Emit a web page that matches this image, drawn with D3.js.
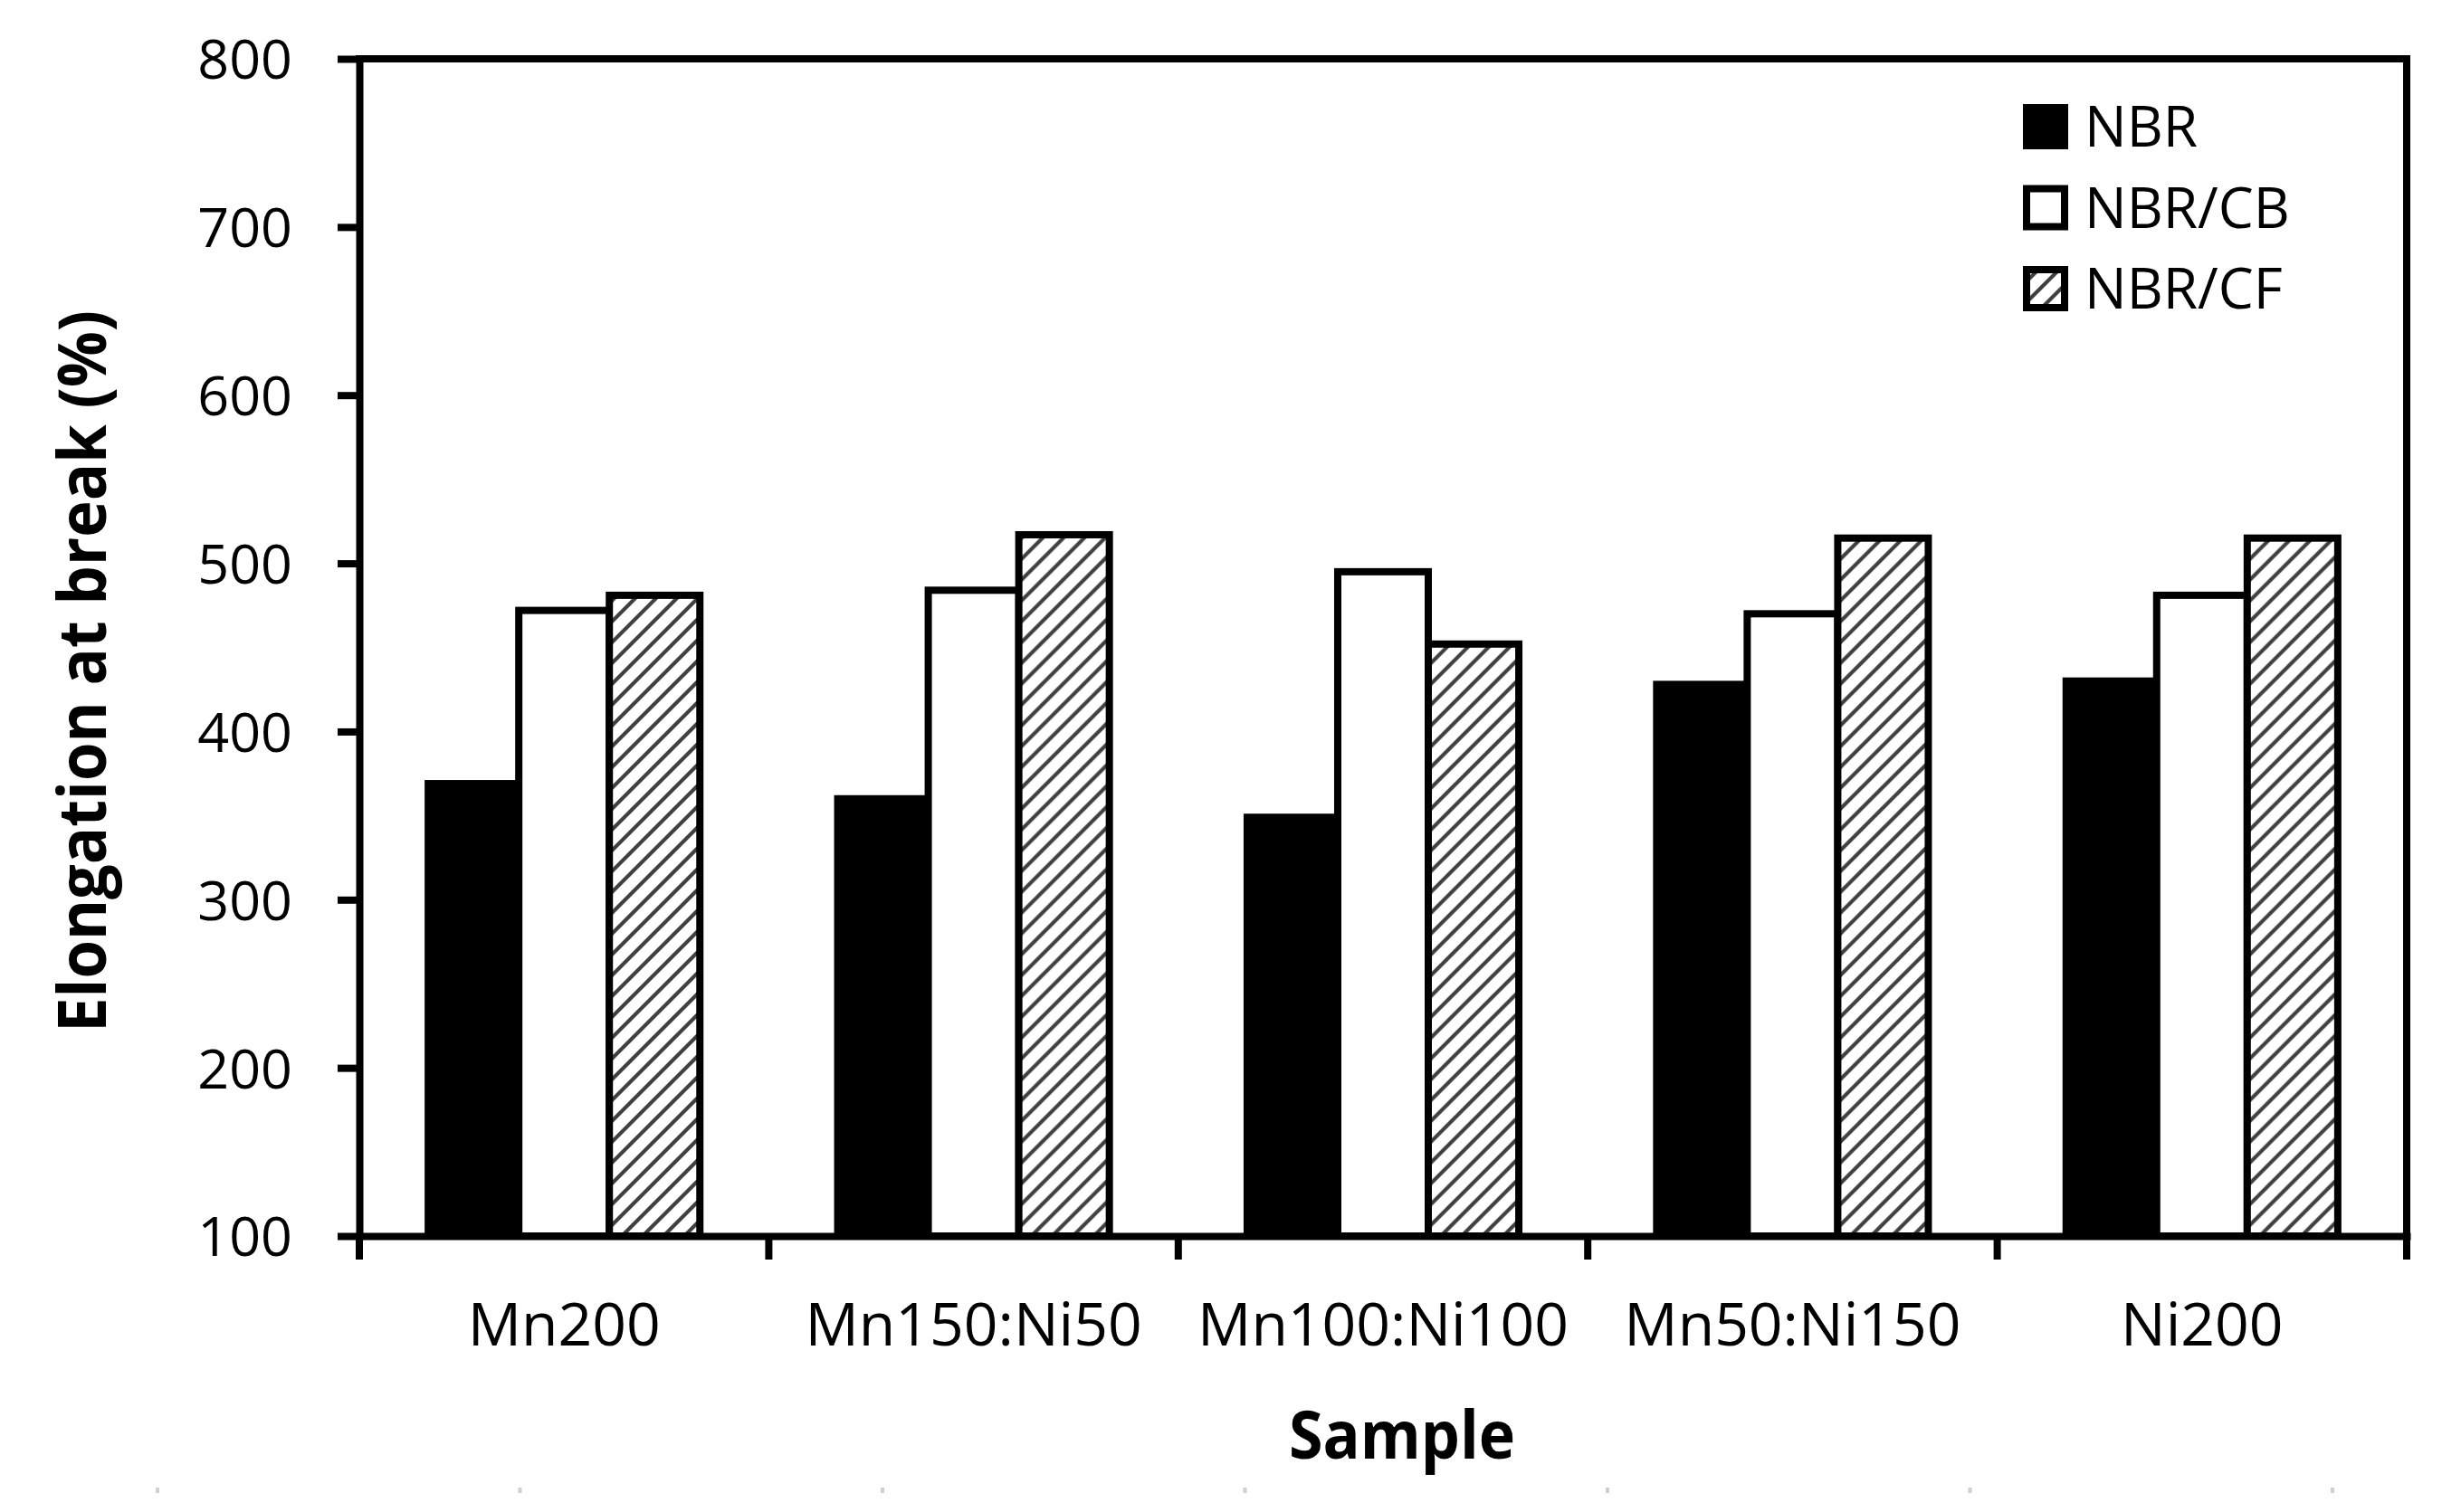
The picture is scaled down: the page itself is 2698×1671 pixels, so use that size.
<!DOCTYPE html>
<html>
<head>
<meta charset="utf-8">
<script src="https://cdn.jsdelivr.net/npm/d3@7"></script>
<style>
  html, body { margin: 0; padding: 0; background: #fff; }
  svg { display: block; }
</style>
</head>
<body>
<svg id="chart" width="2698" height="1671"></svg>
<script>
// ---- data ----
const categories = ["Mn200", "Mn150:Ni50", "Mn100:Ni100", "Mn50:Ni150", "Ni200"];
const seriesNames = ["NBR", "NBR/CB", "NBR/CF"];
const nbrValues   = [369, 360, 349, 428, 430];
const nbrCBValues = [472, 484, 495, 470, 481];
const nbrCFValues = [481, 517, 452, 515, 515];
const yTickValues = [100, 200, 300, 400, 500, 600, 700, 800];
const yTitle = "Elongation at break (%)";
const xTitle = "Sample";

const seriesValues = [nbrValues, nbrCBValues, nbrCFValues];
const seriesFill = ["#000", "#fff", "url(#hatch)"];

// ---- layout ----
const W = 2698, H = 1671;
const plotLeft = 397, plotRight = 2659, plotTop = 65, plotBottom = 1366;
const lw = 8;

const svg = d3.select("#chart");
svg.append("rect").attr("width", W).attr("height", H).attr("fill", "#fff");

// hatch pattern
const defs = svg.append("defs");
const pat = defs.append("pattern")
  .attr("id", "hatch").attr("patternUnits", "userSpaceOnUse")
  .attr("width", 23).attr("height", 23);
pat.append("rect").attr("width", 23).attr("height", 23).attr("fill", "#fff");
pat.append("path")
  .attr("d", "M-6,6 L6,-6 M0,23 L23,0 M17,29 L29,17")
  .attr("stroke", "#404040").attr("stroke-width", 4.2);

const x0 = d3.scaleBand().domain(categories).range([plotLeft, plotRight]).padding(0);
const groupFrac = 0.6634;
const bw0 = x0.bandwidth();
const x1 = d3.scaleBand().domain(seriesNames)
  .range([bw0 * (1 - groupFrac) / 2, bw0 * (1 + groupFrac) / 2]).padding(0);
const y = d3.scaleLinear().domain([100, 800]).range([plotBottom, plotTop]);

// bars
const rows = categories.map((c, i) => ({
  cat: c,
  vals: seriesNames.map((s, j) => ({ s, j, v: seriesValues[j][i] }))
}));
const g = svg.append("g").selectAll("g").data(rows).join("g")
  .attr("transform", d => `translate(${x0(d.cat)},0)`);
g.selectAll("rect").data(d => d.vals).join("rect")
  .attr("x", d => x1(d.s))
  .attr("width", x1.bandwidth())
  .attr("y", d => y(d.v))
  .attr("height", d => y(100) - y(d.v))
  .attr("fill", d => seriesFill[d.j])
  .attr("stroke", "#000")
  .attr("stroke-width", lw);

// frame (top & right)
svg.append("path")
  .attr("d", `M${plotLeft},${y(800)} H${plotRight} V${y(100)}`)
  .attr("fill", "none").attr("stroke", "#000").attr("stroke-width", lw)
  .attr("stroke-linecap", "square");

// y axis
const yAxis = svg.append("g").attr("transform", `translate(${plotLeft},0)`)
  .call(d3.axisLeft(y).tickValues(yTickValues).tickSize(24).tickSizeOuter(0).tickPadding(50));
yAxis.select(".domain").attr("stroke-width", lw).attr("stroke-linecap", "square");
yAxis.selectAll(".tick line").attr("stroke-width", lw);
yAxis.selectAll("text")
  .attr("font-family", "'Open Sans', sans-serif").attr("font-size", 61)
  .attr("fill", "#000").attr("dy", "0.36em");

// x axis (labels at centres)
const xAxis = svg.append("g").attr("transform", `translate(0,${plotBottom})`)
  .call(d3.axisBottom(x0).tickSize(0).tickSizeOuter(0));
xAxis.select(".domain").attr("stroke-width", lw).attr("stroke-linecap", "square");
xAxis.selectAll("text")
  .attr("font-family", "'Open Sans', sans-serif").attr("font-size", 66)
  .attr("fill", "#000").attr("y", 121).attr("dy", 0);

// x tick marks at category boundaries
const boundaries = categories.map(c => x0(c)).concat([x0.range()[1]]);
svg.append("g").selectAll("line").data(boundaries).join("line")
  .attr("x1", d => d).attr("x2", d => d)
  .attr("y1", plotBottom).attr("y2", plotBottom + 26)
  .attr("stroke", "#000").attr("stroke-width", lw);

// axis titles
svg.append("text")
  .attr("transform", `translate(117,742) rotate(-90)`)
  .attr("text-anchor", "middle")
  .attr("font-family", "'Open Sans', sans-serif").attr("font-weight", 700)
  .attr("font-size", 74)
  .attr("textLength", 798).attr("lengthAdjust", "spacingAndGlyphs")
  .text(yTitle);
svg.append("text")
  .attr("x", 1549).attr("y", 1612)
  .attr("text-anchor", "middle")
  .attr("font-family", "'Open Sans', sans-serif").attr("font-weight", 700)
  .attr("font-size", 74)
  .attr("textLength", 250).attr("lengthAdjust", "spacingAndGlyphs")
  .text(xTitle);

// legend
const legendY = d3.scalePoint().domain(seriesNames).range([140, 319]);
const leg = svg.append("g").selectAll("g").data(seriesNames).join("g")
  .attr("transform", d => `translate(0,${legendY(d)})`);
leg.append("rect")
  .attr("x", 2239).attr("y", -21).attr("width", 42).attr("height", 42)
  .attr("fill", (d, i) => seriesFill[i])
  .attr("stroke", "#000").attr("stroke-width", lw);
leg.append("text")
  .attr("x", 2303).attr("y", 0).attr("dy", "0.36em")
  .attr("font-family", "'Open Sans', sans-serif").attr("font-size", 62)
  .attr("fill", "#000")
  .text(d => d);

// faint specks near bottom edge (scan artefacts in original)
svg.append("g").selectAll("rect").data(d3.range(7)).join("rect")
  .attr("x", i => 172 + i * 400.5).attr("y", 1644)
  .attr("width", 4).attr("height", 6).attr("fill", "#d0d0d0");
</script>
</body>
</html>
